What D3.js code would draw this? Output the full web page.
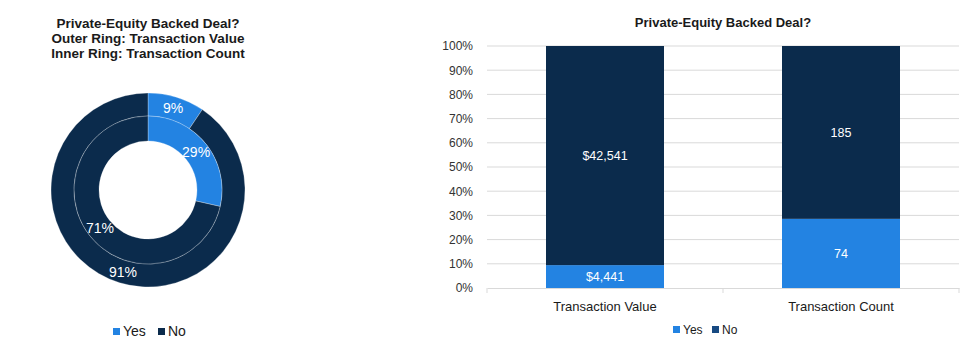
<!DOCTYPE html>
<html>
<head>
<meta charset="utf-8">
<script src="https://cdn.jsdelivr.net/npm/d3@7"></script>
<style>
  body { margin: 0; background: #fff; }
  svg { font-family: "Liberation Sans", Arial, sans-serif; }
</style>
</head>
<body>
<div id="chart"></div>
<script>
// Data
const series = ["Yes", "No"];
const metrics = ["Transaction Value", "Transaction Count"];
const yesValues = [4441, 74];
const noValues = [42541, 185];
const valueLabels = [["$4,441", "$42,541"], ["74", "185"]];
const yTicks = [0, 0.1, 0.2, 0.3, 0.4, 0.5, 0.6, 0.7, 0.8, 0.9, 1];

const colors = { Yes: "#2383e2", No: "#0b2b4c" };

const width = 975, height = 363;
const svg = d3.select("#chart")
    .append("svg")
    .attr("width", width)
    .attr("height", height);

// ---------- Left: nested donut ----------
const cx = 148, cy = 190;
const rings = [
    { name: "Transaction Value", values: [yesValues[0], noValues[0]], inner: 74, outer: 97 },
    { name: "Transaction Count", values: [yesValues[1], noValues[1]], inner: 49, outer: 74 }
];

const pie = d3.pie().sort(null).value(d => d.value);
const donut = svg.append("g").attr("transform", `translate(${cx},${cy})`);

rings.forEach(ring => {
    const total = d3.sum(ring.values);
    const slices = pie(series.map((s, i) => ({ key: s, value: ring.values[i], pct: ring.values[i] / total })));
    const arc = d3.arc().innerRadius(ring.inner).outerRadius(ring.outer);

    donut.append("g").selectAll("path")
        .data(slices)
        .enter()
        .append("path")
        .attr("d", arc)
        .attr("fill", d => colors[d.data.key])
        .attr("stroke", "rgba(255,255,255,0.35)")
        .attr("stroke-width", 0.8);

    donut.append("g").selectAll("text")
        .data(slices)
        .enter()
        .append("text")
        .attr("transform", d => `translate(${arc.centroid(d)})`)
        .attr("text-anchor", "middle")
        .attr("dy", "0.35em")
        .attr("font-size", "14px")
        .attr("fill", "white")
        .text(d => d3.format(".0%")(d.data.pct));
});

// Left title
const leftTitle = ["Private-Equity Backed Deal?", "Outer Ring: Transaction Value", "Inner Ring: Transaction Count"];
svg.append("g").selectAll("text")
    .data(leftTitle)
    .enter()
    .append("text")
    .attr("x", 148)
    .attr("y", (d, i) => 28 + i * 15)
    .attr("text-anchor", "middle")
    .attr("font-size", "13.5px")
    .attr("font-weight", "bold")
    .attr("fill", "#1a1a1a")
    .text(d => d);

// Left legend
const leftLegend = svg.append("g").attr("transform", "translate(113,328)");
const llItems = leftLegend.selectAll("g")
    .data(series)
    .enter()
    .append("g")
    .attr("transform", (d, i) => `translate(${i * 45},0)`);
llItems.append("rect").attr("width", 7).attr("height", 7).attr("fill", d => colors[d]);
llItems.append("text")
    .attr("x", 10).attr("y", 7.5)
    .attr("font-size", "14px")
    .attr("fill", "#1a1a1a")
    .text(d => d);

// ---------- Right: 100% stacked bar ----------
const margin = { left: 487, right: 16, top: 46, bottom: 75 };
const x = d3.scaleBand()
    .domain(metrics)
    .range([margin.left, width - margin.right])
    .paddingInner(0.5)
    .paddingOuter(0.25);
const y = d3.scaleLinear()
    .domain([0, 1])
    .range([height - margin.bottom, margin.top]);

// gridlines
svg.append("g").selectAll("line")
    .data(yTicks.slice(1))
    .enter()
    .append("line")
    .attr("x1", margin.left)
    .attr("x2", width - margin.right)
    .attr("y1", d => y(d))
    .attr("y2", d => y(d))
    .attr("stroke", "#d9d9d9")
    .attr("stroke-width", 1);

// y axis labels
const yAxis = svg.append("g")
    .attr("transform", `translate(${margin.left},0)`)
    .call(d3.axisLeft(y).tickValues(yTicks).tickFormat(d3.format(".0%")).tickSize(0).tickPadding(14));
yAxis.select(".domain").remove();
yAxis.selectAll("text")
    .attr("font-size", "12px")
    .attr("font-family", "Liberation Sans, Arial, sans-serif")
    .attr("fill", "#333");

// stacked data
const rows = metrics.map((m, i) => {
    const total = yesValues[i] + noValues[i];
    return { metric: m, Yes: yesValues[i] / total, No: noValues[i] / total, idx: i };
});
const stacked = d3.stack().keys(series)(rows);

const layers = svg.append("g").selectAll("g")
    .data(stacked)
    .enter()
    .append("g")
    .attr("fill", d => colors[d.key]);

layers.selectAll("rect")
    .data(d => d.map(p => Object.assign(p, { key: d.key })))
    .enter()
    .append("rect")
    .attr("x", d => x(d.data.metric))
    .attr("width", x.bandwidth())
    .attr("y", d => y(d[1]))
    .attr("height", d => y(d[0]) - y(d[1]));

layers.selectAll("text")
    .data(d => d)
    .enter()
    .append("text")
    .attr("x", d => x(d.data.metric) + x.bandwidth() / 2)
    .attr("y", d => y((d[0] + d[1]) / 2))
    .attr("dy", "0.35em")
    .attr("text-anchor", "middle")
    .attr("font-size", "12.5px")
    .attr("fill", "white")
    .text(d => valueLabels[d.data.idx][series.indexOf(d.key)]);

// x axis
const xAxis = svg.append("g")
    .attr("transform", `translate(0,${y(0)})`)
    .call(d3.axisBottom(x).tickSize(0).tickPadding(14));
xAxis.select(".domain").attr("stroke", "#d9d9d9");
xAxis.selectAll("text")
    .attr("font-size", "13px")
    .attr("font-family", "Liberation Sans, Arial, sans-serif")
    .attr("fill", "#1a1a1a");
// category separators
svg.append("g").selectAll("line")
    .data([margin.left, (x(metrics[0]) + x.bandwidth() + x(metrics[1])) / 2, width - margin.right])
    .enter()
    .append("line")
    .attr("x1", d => d).attr("x2", d => d)
    .attr("y1", y(0)).attr("y2", y(0) + 5)
    .attr("stroke", "#d9d9d9");

// Right title
svg.append("text")
    .attr("x", (margin.left + width - margin.right) / 2)
    .attr("y", 27)
    .attr("text-anchor", "middle")
    .attr("font-size", "13px")
    .attr("font-weight", "bold")
    .attr("fill", "#1a1a1a")
    .text("Private-Equity Backed Deal?");

// Right legend
const rightLegend = svg.append("g").attr("transform", "translate(673,326)");
const rlItems = rightLegend.selectAll("g")
    .data(series)
    .enter()
    .append("g")
    .attr("transform", (d, i) => `translate(${i * 39},0)`);
rlItems.append("rect").attr("width", 7).attr("height", 7)
    .attr("fill", d => d === "No" ? "#174a82" : colors[d]);
rlItems.append("text")
    .attr("x", 10).attr("y", 7.5)
    .attr("font-size", "12px")
    .attr("fill", "#1a1a1a")
    .text(d => d);
</script>
</body>
</html>
